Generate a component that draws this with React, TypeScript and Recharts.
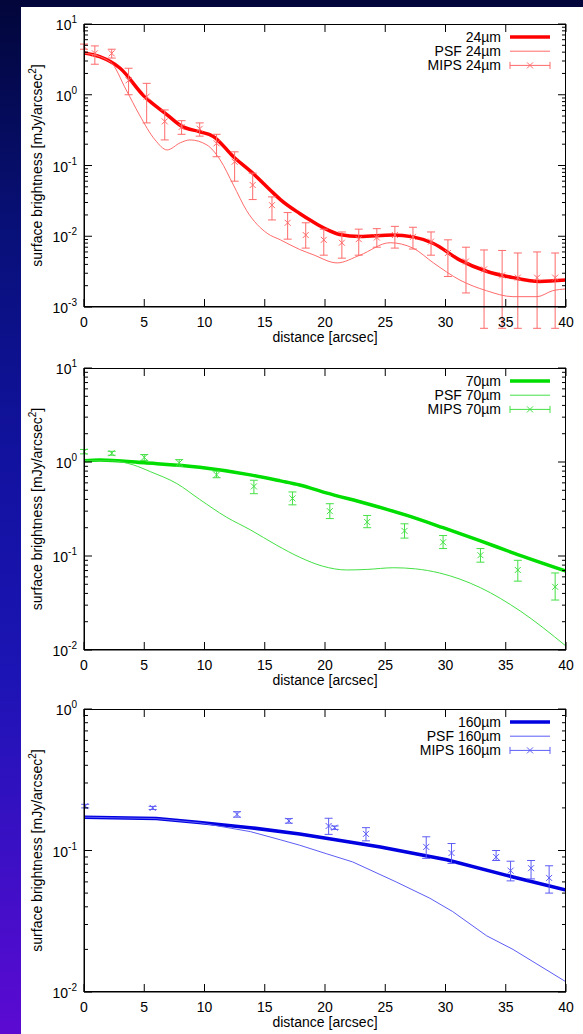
import React from 'react'
import { ComposedChart, Line, Scatter, ErrorBar, XAxis, YAxis, Legend } from 'recharts'

const FONT = '"Liberation Sans", Arial, Helvetica, sans-serif'

// shared x ticks (arcsec)
const distTicks = [0, 5, 10, 15, 20, 25, 30, 35, 40]

// ---- 24 micron ----
const model24Dist = [0, 1.3, 3, 5, 6.9, 8.1, 9.6, 10.7, 12.4, 14, 15.7, 16.3, 17.9, 19, 20, 21.2, 22.9, 25.6, 27.3, 29, 31.2, 33.4, 35.6, 37.8, 40]
const model24 = [3.9, 3.45, 2.37, 0.95, 0.52, 0.36, 0.3, 0.26, 0.133, 0.078, 0.041, 0.033, 0.021, 0.016, 0.0128, 0.0106, 0.0099, 0.0104, 0.0098, 0.0079, 0.0046, 0.0032, 0.0026, 0.0023, 0.0024]
const psf24Dist = [0, 2.2, 3.5, 4.6, 5.9, 6.9, 8, 8.8, 10.2, 11.3, 12.4, 13.5, 15.2, 16.3, 17.9, 19, 21, 22.9, 25.4, 27.3, 29, 31.2, 33.4, 35.6, 37.6, 38.9, 40]
const psf24 = [3.9, 2.9, 1.17, 0.52, 0.23, 0.166, 0.21, 0.23, 0.195, 0.12, 0.053, 0.023, 0.011, 0.0089, 0.0065, 0.0055, 0.0042, 0.0054, 0.0081, 0.0068, 0.0042, 0.0024, 0.0017, 0.0014, 0.0014, 0.0017, 0.0018]
const mips24Dist = [0, 0.9, 2.3, 3.7, 5.2, 6.7, 8.1, 9.6, 11.0, 12.5, 14.0, 15.6, 16.9, 18.4, 19.9, 21.4, 22.8, 24.3, 25.8, 27.3, 28.8, 30.2, 31.7, 33.2, 34.7, 36.0, 37.6, 39.1]
const mips24 = [4.8, 3.85, 3.85, 1.6, 0.94, 0.42, 0.35, 0.33, 0.206, 0.113, 0.053, 0.0275, 0.0155, 0.0104, 0.0089, 0.0081, 0.0091, 0.0096, 0.0104, 0.0098, 0.0084, 0.0058, 0.0044, 0.0034, 0.0028, 0.0026, 0.0026, 0.0026]
const mips24Lo = [4.4, 2.7, 3.3, 1.0, 0.4, 0.23, 0.276, 0.26, 0.133, 0.06, 0.033, 0.017, 0.0091, 0.0068, 0.0054, 0.0049, 0.0054, 0.007, 0.0068, 0.0066, 0.0054, 0.0027, 0.00158, 0.0005, 0.0005, 0.0005, 0.0005, 0.0005]
const mips24Hi = [5.2, 4.9, 4.4, 2.37, 1.45, 0.61, 0.43, 0.4, 0.276, 0.156, 0.078, 0.036, 0.0216, 0.0155, 0.0126, 0.0115, 0.0126, 0.0128, 0.0138, 0.0134, 0.0115, 0.0089, 0.007, 0.0064, 0.0063, 0.0058, 0.006, 0.0058]

// ---- 70 micron ----
const model70Dist = [0, 1.3, 5, 9.6, 13.8, 16.3, 17.9, 20.1, 23.5, 26.8, 29.8, 32.9, 35.6, 40]
const model70 = [1.03, 1.05, 0.98, 0.88, 0.73, 0.63, 0.57, 0.47, 0.36, 0.27, 0.2, 0.145, 0.108, 0.069]
const psf70Dist = [0, 2.2, 4.1, 5.5, 7.7, 9.6, 11.8, 13.8, 16, 17.9, 19.8, 21.8, 23.5, 25.7, 27.5, 29.5, 32.9, 36.2, 40]
const psf70 = [1.03, 1.03, 0.93, 0.79, 0.59, 0.4, 0.26, 0.19, 0.13, 0.097, 0.078, 0.071, 0.072, 0.075, 0.073, 0.066, 0.046, 0.026, 0.011]
const mips70Dist = [0, 2.3, 5.0, 7.9, 11.0, 14.1, 17.3, 20.4, 23.5, 26.6, 29.8, 32.9, 36.0, 39.1]
const mips70 = [1.29, 1.24, 1.12, 0.98, 0.73, 0.55, 0.41, 0.3, 0.23, 0.185, 0.14, 0.102, 0.071, 0.047]
const mips70Lo = [1.22, 1.18, 1.04, 0.9, 0.68, 0.46, 0.35, 0.25, 0.2, 0.155, 0.12, 0.086, 0.054, 0.034]
const mips70Hi = [1.36, 1.3, 1.2, 1.06, 0.8, 0.64, 0.48, 0.36, 0.27, 0.22, 0.165, 0.12, 0.09, 0.066]

// ---- 160 micron ----
const model160Dist = [0, 6, 9.6, 13.8, 17.9, 20.1, 24.6, 30.1, 35.6, 40]
const model160 = [0.172, 0.168, 0.158, 0.145, 0.131, 0.122, 0.106, 0.086, 0.065, 0.0525]
const psf160Dist = [0, 6, 9.6, 13.8, 16.3, 17.9, 20.1, 22.3, 25.9, 28.7, 30.6, 33.4, 35.6, 40]
const psf160 = [0.172, 0.168, 0.157, 0.136, 0.119, 0.109, 0.095, 0.083, 0.06, 0.046, 0.037, 0.025, 0.02, 0.0118]
const mips160Dist = [0.1, 5.7, 12.7, 17.0, 20.3, 20.8, 23.4, 28.4, 30.5, 34.2, 35.4, 37.1, 38.6]
const mips160 = [0.206, 0.2, 0.18, 0.162, 0.149, 0.145, 0.131, 0.106, 0.096, 0.09, 0.072, 0.075, 0.064]
const mips160Lo = [0.2, 0.195, 0.172, 0.156, 0.13, 0.141, 0.117, 0.088, 0.081, 0.085, 0.061, 0.063, 0.05]
const mips160Hi = [0.212, 0.205, 0.188, 0.168, 0.169, 0.149, 0.145, 0.125, 0.112, 0.1, 0.084, 0.085, 0.078]

const curve = (ds: number[], vs: number[]) => ds.map((d, i) => ({ d, v: vs[i] }))
const points = (ds: number[], vs: number[], lo: number[], hi: number[]) =>
  ds.map((d, i) => ({ d, v: vs[i], err: [vs[i] - lo[i], hi[i] - vs[i]] }))

// layout
const W = 562
const PLOT_LEFT = 63
const PLOT_RIGHT = 545

function logTicks(lo: number, hi: number) {
  const out: number[] = []
  for (let e = Math.round(Math.log10(lo)); e < Math.round(Math.log10(hi)); e++) {
    for (let k = 1; k < 10; k++) out.push(k * Math.pow(10, e))
  }
  out.push(hi)
  return out
}

const XMark = (color: string) => (props: any) => {
  const { cx, cy } = props
  const s = 3
  return (
    <path
      d={`M${cx - s},${cy - s}L${cx + s},${cy + s}M${cx - s},${cy + s}L${cx + s},${cy - s}`}
      stroke={color}
      strokeWidth={1}
      fill="none"
    />
  )
}

type PanelProps = {
  height: number
  marginTop: number
  xAxisHeight: number
  yDomain: [number, number]
  model: { d: number; v: number }[]
  psf: { d: number; v: number }[]
  mips: { d: number; v: number; err: number[] }[]
  band: string
  color: string
  light: string
  curveType: 'monotone' | 'linear'
}

function Panel(p: PanelProps) {
  const plotTop = p.marginTop
  const plotBottom = p.height - p.xAxisHeight
  const yTicks = logTicks(p.yDomain[0], p.yDomain[1])
  const names = [`${p.band}`, `PSF ${p.band}`, `MIPS ${p.band}`]

  const xTick = (props: any) => {
    const { x, payload } = props
    return (
      <g>
        <line x1={x} x2={x} y1={plotBottom} y2={plotBottom - 8} stroke="#000" />
        <line x1={x} x2={x} y1={plotTop} y2={plotTop + 8} stroke="#000" />
        <text x={x} y={plotBottom + 20} textAnchor="middle" fontSize={14} fontFamily={FONT} fill="#000">
          {payload.value}
        </text>
      </g>
    )
  }

  const yTick = (props: any) => {
    const { y, payload } = props
    const l = Math.log10(payload.value)
    const e = Math.round(l)
    const major = Math.abs(l - e) < 1e-6
    const len = major ? 8 : 4
    return (
      <g>
        <line x1={PLOT_LEFT} x2={PLOT_LEFT + len} y1={y} y2={y} stroke="#000" />
        <line x1={PLOT_RIGHT - len} x2={PLOT_RIGHT} y1={y} y2={y} stroke="#000" />
        {major && (
          <text x={PLOT_LEFT - 7} y={y + 6} textAnchor="end" fontSize={14} fontFamily={FONT} fill="#000">
            10<tspan dy={-7} fontSize={10}>{e}</tspan>
          </text>
        )}
      </g>
    )
  }

  const legend = (props: any) => {
    const payload = [...(props.payload || [])].sort(
      (a: any, b: any) => names.indexOf(a.value) - names.indexOf(b.value)
    )
    return (
      <svg width={W} height={plotTop + 50} style={{ display: 'block' }}>
        {payload.map((it: any, i: number) => {
          const cy = plotTop + 13 + i * 14.2
          const x1 = 489
          const x2 = 529
          return (
            <g key={it.value}>
              <text x={480} y={cy + 5} textAnchor="end" fontSize={14} fontFamily={FONT} fill="#000">
                {it.value}
              </text>
              {i === 0 && <line x1={x1} x2={x2} y1={cy} y2={cy} stroke={p.color} strokeWidth={3.5} />}
              {i === 1 && <line x1={x1} x2={x2} y1={cy} y2={cy} stroke={p.light} strokeWidth={1} />}
              {i === 2 && (
                <g stroke={p.light} strokeWidth={1} fill="none">
                  <line x1={x1} x2={x2} y1={cy} y2={cy} />
                  <line x1={x1} x2={x1} y1={cy - 3.5} y2={cy + 3.5} />
                  <line x1={x2} x2={x2} y1={cy - 3.5} y2={cy + 3.5} />
                  <path d={`M${509 - 3},${cy - 3}L${509 + 3},${cy + 3}M${509 - 3},${cy + 3}L${509 + 3},${cy - 3}`} />
                </g>
              )}
            </g>
          )
        })}
      </svg>
    )
  }

  const midY = (plotTop + plotBottom) / 2

  return (
    <div style={{ position: 'relative', width: W, height: p.height }}>
      <ComposedChart width={W} height={p.height} margin={{ top: p.marginTop, right: W - PLOT_RIGHT, bottom: 0, left: 0 }}>
        <XAxis
          dataKey="d"
          type="number"
          domain={[0, 40]}
          ticks={distTicks}
          interval={0}
          height={p.xAxisHeight}
          allowDataOverflow
          tickLine={false}
          axisLine={{ stroke: '#000' }}
          tick={xTick}
          label={{
            content: () => (
              <text
                x={(PLOT_LEFT + PLOT_RIGHT) / 2}
                y={plotBottom + 35}
                textAnchor="middle"
                fontSize={14}
                fontFamily={FONT}
                fill="#000"
              >
                distance [arcsec]
              </text>
            ),
          }}
        />
        <YAxis
          type="number"
          scale="log"
          domain={p.yDomain}
          ticks={yTicks}
          interval={0}
          allowDataOverflow
          width={PLOT_LEFT}
          tickLine={false}
          axisLine={{ stroke: '#000' }}
          tick={yTick}
          label={{
            content: () => (
              <text
                x={21}
                y={midY}
                transform={`rotate(-90 21 ${midY})`}
                textAnchor="middle"
                fontSize={14}
                fontFamily={FONT}
                fill="#000"
              >
                surface brightness [mJy/arcsec<tspan dy={-6} fontSize={10}>2</tspan>
                <tspan dy={6}>]</tspan>
              </text>
            ),
          }}
        />
        <Legend
          layout="horizontal"
          verticalAlign="middle"
          align="center"
          content={legend}
          wrapperStyle={{ top: 0, left: 0, width: W }}
        />
        <Line
          data={p.model}
          dataKey="v"
          name={names[0]}
          type={p.curveType}
          stroke={p.color}
          strokeWidth={3.5}
          dot={false}
          legendType="line"
          isAnimationActive={false}
        />
        <Line
          data={p.psf}
          dataKey="v"
          name={names[1]}
          type={p.curveType}
          stroke={p.light}
          strokeWidth={1}
          dot={false}
          legendType="plainline"
          isAnimationActive={false}
        />
        <Scatter
          data={p.mips}
          dataKey="v"
          name={names[2]}
          fill={p.light}
          shape={XMark(p.light)}
          legendType="cross"
          isAnimationActive={false}
        >
          <ErrorBar dataKey="err" direction="y" width={4} stroke={p.light} strokeWidth={1} isAnimationActive={false} />
        </Scatter>
      </ComposedChart>
      {/* plot frame */}
      <svg
        width={W}
        height={p.height}
        style={{ position: 'absolute', left: 0, top: 0, pointerEvents: 'none' }}
      >
        <rect
          x={PLOT_LEFT + 0.5}
          y={plotTop + 0.5}
          width={PLOT_RIGHT - PLOT_LEFT - 1}
          height={plotBottom - plotTop - 1}
          fill="none"
          stroke="#000"
          strokeWidth={1}
        />
      </svg>
    </div>
  )
}

export default function App() {
  return (
    <div
      style={{
        position: 'absolute',
        left: 0,
        top: 0,
        width: 583,
        height: 1034,
        overflow: 'hidden',
        background: 'linear-gradient(to bottom, #02063a 0%, #081078 22%, #1212a0 45%, #1c14b4 65%, #3a10c4 82%, #5c0ad2 100%)',
      }}
    >
      <div style={{ position: 'absolute', left: 21, top: 7, width: W, height: 1027, background: '#fff' }}>
        <div style={{ position: 'absolute', left: 0, top: 0 }}>
          <Panel
            height={340}
            marginTop={17}
            xAxisHeight={40}
            yDomain={[0.001, 10]}
            model={curve(model24Dist, model24)}
            psf={curve(psf24Dist, psf24)}
            mips={points(mips24Dist, mips24, mips24Lo, mips24Hi)}
            band="24µm"
            color="#ff0000"
            light="#ff6a6a"
            curveType="monotone"
          />
        </div>
        <div style={{ position: 'absolute', left: 0, top: 340 }}>
          <Panel
            height={343}
            marginTop={21}
            xAxisHeight={40}
            yDomain={[0.01, 10]}
            model={curve(model70Dist, model70)}
            psf={curve(psf70Dist, psf70)}
            mips={points(mips70Dist, mips70, mips70Lo, mips70Hi)}
            band="70µm"
            color="#00dd00"
            light="#44e044"
            curveType="monotone"
          />
        </div>
        <div style={{ position: 'absolute', left: 0, top: 683 }}>
          <Panel
            height={344}
            marginTop={19}
            xAxisHeight={42}
            yDomain={[0.01, 1]}
            model={curve(model160Dist, model160)}
            psf={curve(psf160Dist, psf160)}
            mips={points(mips160Dist, mips160, mips160Lo, mips160Hi)}
            band="160µm"
            color="#0000e0"
            light="#5c5cf5"
            curveType="linear"
          />
        </div>
      </div>
    </div>
  )
}
